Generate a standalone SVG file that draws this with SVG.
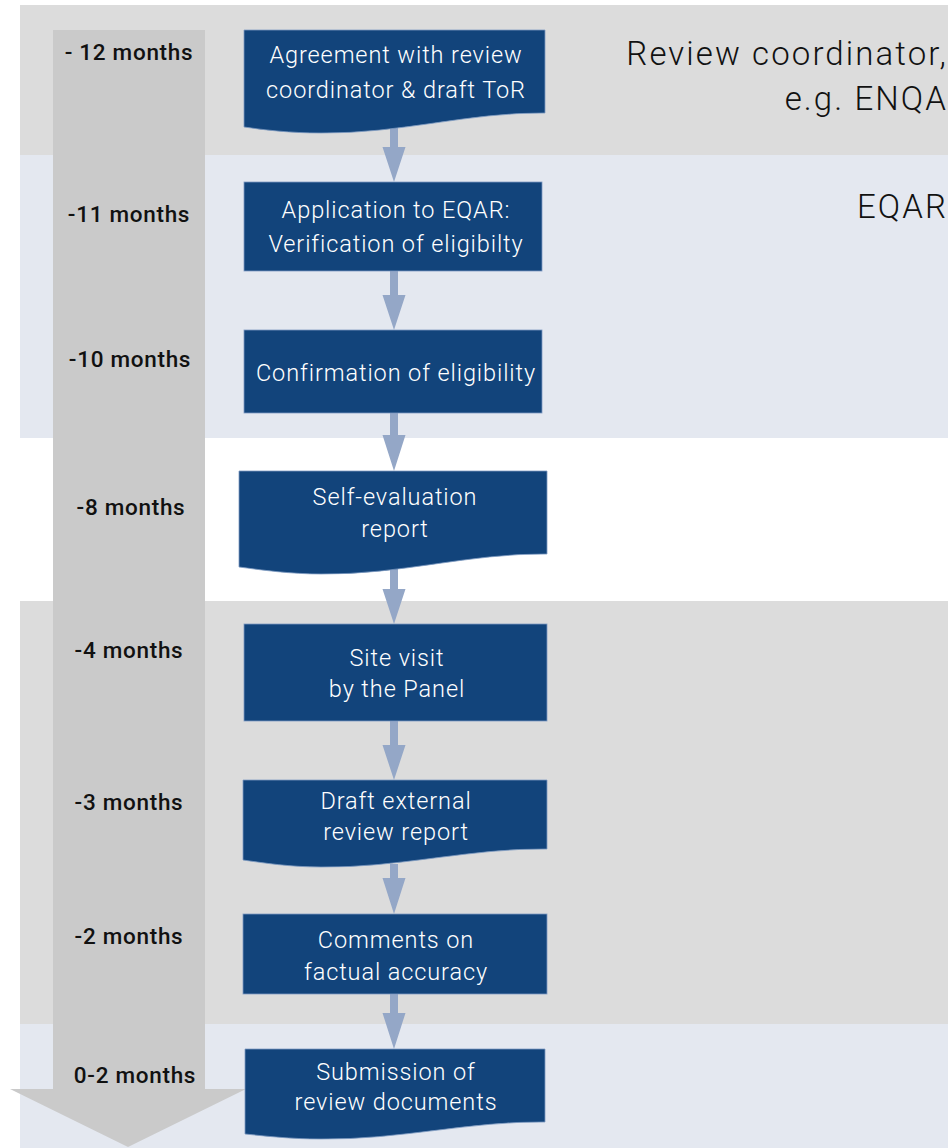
<svg xmlns="http://www.w3.org/2000/svg" width="948" height="1148" viewBox="0 0 948 1148">
<style>
.box{fill:#12447b;stroke:#7e9ac2;stroke-width:0.8}
.bt{font-family:Roboto,"Liberation Sans",sans-serif;font-size:23.5px;font-weight:300;fill:#ffffff;text-anchor:middle;letter-spacing:0.9px}
.tl{font-family:Roboto,"Liberation Sans",sans-serif;font-size:22.5px;font-weight:500;fill:#111111;text-anchor:middle;letter-spacing:0.7px}
.rt{font-family:Roboto,"Liberation Sans",sans-serif;font-size:33px;font-weight:300;fill:#111111;text-anchor:end;letter-spacing:2.1px}
.con{fill:#94a7c7}
</style>
<rect width="948" height="1148" fill="#ffffff"/>
<g id="bands">
<rect x="20" y="5" width="928" height="150" fill="#dcdcdc"/>
<rect x="20" y="155" width="928" height="283" fill="#e4e8f0"/>
<rect x="20" y="601" width="928" height="423" fill="#dcdcdc"/>
<rect x="20" y="1024" width="928" height="124" fill="#e4e8f0"/>
</g>
<g id="lane-labels">
<text class="rt" x="948" y="65">Review coordinator,</text>
<text class="rt" x="948" y="110">e.g. ENQA</text>
<text class="rt" x="948" y="218">EQAR</text>
</g>
<g id="timeline">
<path d="M53,30 H205 V1089 H246 L128,1147 L10,1089 H53 Z" fill="#cacaca"/>
<text class="tl" x="129" y="60">- 12 months</text>
<text class="tl" x="129" y="222">-11 months</text>
<text class="tl" x="130" y="367">-10 months</text>
<text class="tl" x="131" y="515">-8 months</text>
<text class="tl" x="129" y="658">-4 months</text>
<text class="tl" x="129" y="810">-3 months</text>
<text class="tl" x="129" y="944">-2 months</text>
<text class="tl" x="135" y="1083">0-2 months</text>
</g>
<g id="connectors">
<path class="con" d="M390,127 H398 V147 H405.5 L394,182 L382.5,147 H390 Z"/>
<path class="con" d="M390,271 H398 V295 H405.5 L394,330 L382.5,295 H390 Z"/>
<path class="con" d="M390,413 H398 V435 H405.5 L394,471 L382.5,435 H390 Z"/>
<path class="con" d="M390,569 H398 V589 H405.5 L394,624 L382.5,589 H390 Z"/>
<path class="con" d="M390,721 H398 V745 H405.5 L394,780 L382.5,745 H390 Z"/>
<path class="con" d="M390,864 H398 V878 H405.5 L394,914 L382.5,878 H390 Z"/>
<path class="con" d="M390,994 H398 V1013 H405.5 L394,1049 L382.5,1013 H390 Z"/>
</g>
<g id="n1">
<path class="box" d="M244,30 H545 V113 C470,112 400,134 321,133 C290,133 265,130 244,127 Z"/>
<text class="bt" x="396" y="63">Agreement with review</text>
<text class="bt" x="396" y="98">coordinator &amp; draft ToR</text>
</g>
<g id="n2">
<rect class="box" x="244" y="182" width="298" height="89"/>
<text class="bt" x="396" y="218">Application to EQAR:</text>
<text class="bt" x="396" y="252">Verification of eligibilty</text>
</g>
<g id="n3">
<rect class="box" x="244" y="330" width="298" height="83"/>
<text class="bt" x="396" y="381">Confirmation of eligibility</text>
</g>
<g id="n4">
<path class="box" d="M239,471 H547 V554 C470,553 400,575 321,574 C290,574 262,570 239,567 Z"/>
<text class="bt" x="395" y="505">Self-evaluation</text>
<text class="bt" x="395" y="537">report</text>
</g>
<g id="n5">
<rect class="box" x="244" y="624" width="303" height="97"/>
<text class="bt" x="397" y="666">Site visit</text>
<text class="bt" x="397" y="697">by the Panel</text>
</g>
<g id="n6">
<path class="box" d="M243,780 H547 V849 C470,848 400,868 321,867 C290,867 264,863 243,860 Z"/>
<text class="bt" x="396" y="809">Draft external</text>
<text class="bt" x="396" y="840">review report</text>
</g>
<g id="n7">
<rect class="box" x="243" y="914" width="304" height="80"/>
<text class="bt" x="396" y="948">Comments on</text>
<text class="bt" x="396" y="980">factual accuracy</text>
</g>
<g id="n8">
<path class="box" d="M245,1049 H545 V1122 C470,1121 400,1140 321,1139 C290,1139 265,1136 245,1134 Z"/>
<text class="bt" x="396" y="1080">Submission of</text>
<text class="bt" x="396" y="1110">review documents</text>
</g>
</svg>
